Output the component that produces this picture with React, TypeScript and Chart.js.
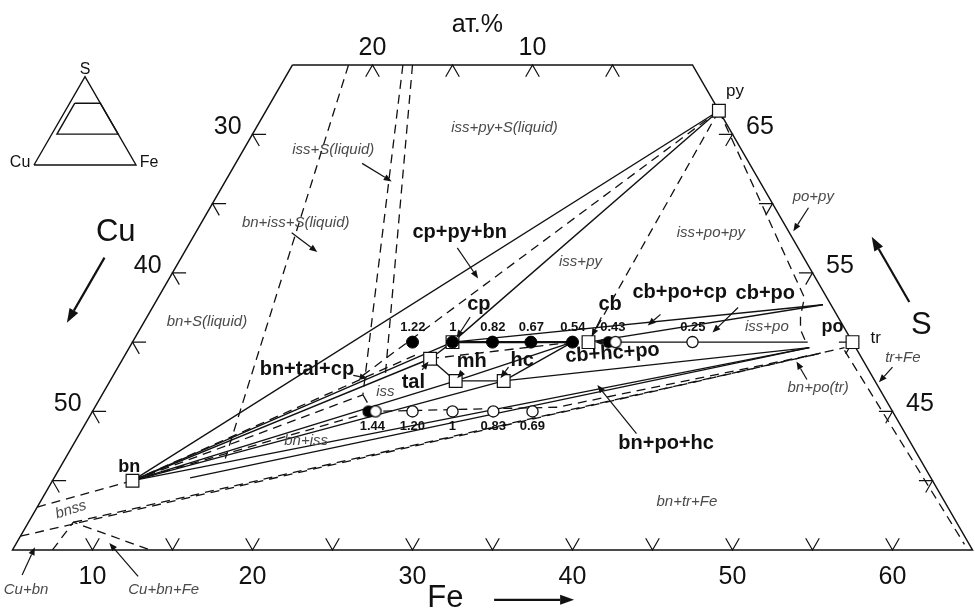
import React, { useEffect, useRef } from "react";
import { Chart, registerables } from "chart.js";

Chart.register(...registerables);

// Every composition is [Fe at.%, S at.%]; Cu = 100 - Fe - S.
type Comp = [number, number];

// ---- phases ----
const PY: Comp = [33.3, 66.7];
const BN: Comp = [10, 40];
const CP: Comp = [25, 50];
const TAL: Comp = [24.2, 48.8];
const MH: Comp = [26.6, 47.2];
const HC: Comp = [29.6, 47.2];
const CB: Comp = [33.5, 50];
const TR: Comp = [50, 50];
const PO_UPPER: Comp = [46.8, 52.7];
const PO_MID: Comp = [47.2, 50];
const PO_LOWER: Comp = [47.5, 49.6];
const BNSS: Comp = [7.8, 37];
const P054: Comp = [32.5, 50];
const P043: Comp = [35, 50];
const Q144: Comp = [22.5, 45];
const ISS_CORNER: Comp = [21.3, 46.2];

const PHASE_SQUARES: Comp[] = [PY, BN, CP, TAL, MH, HC, CB, TR];

// ---- experimental compositions (Cu/Fe ratios) ----
const UPPER_RATIOS = ["1.22", "1", "0.82", "0.67", "0.54", "0.43", "0.25"];
const UPPER_FE = [22.5, 25, 27.5, 29.9, 32.5, 35, 40];
const UPPER_S = 50;
const UPPER_KIND = ["filled", "filled", "filled", "filled", "filled", "half", "open"];
const LOWER_RATIOS = ["1.44", "1.20", "1", "0.83", "0.69"];
const LOWER_FE = [22.5, 25, 27.5, 30.05, 32.5];
const LOWER_S = 45;
const LOWER_KIND = ["half", "open", "open", "open", "open"];

// ---- frame and axes ----
const FRAME: Comp[] = [[5, 70], [30, 70], [65, 35], [5, 35], [5, 70]];
const TOP_TICKS_FE = [10, 15, 20, 25];
const BOTTOM_TICKS_FE = [10, 15, 20, 25, 30, 35, 40, 45, 50, 55, 60];
const LEFT_TICKS_S = [65, 60, 55, 50, 45, 40];
const RIGHT_TICKS_S = [65, 60, 55, 50, 45, 40];
const TOP_LABELS_CU = [20, 10];
const BOTTOM_LABELS_FE = [10, 20, 30, 40, 50, 60];
const LEFT_LABELS_CU = [30, 40, 50];
const RIGHT_LABELS_S = [65, 55, 45];

// ---- tie lines / boundaries ----
const SOLID_LINES: Comp[][] = [
  [PY, BN], [PY, CP], [BN, CP], [BN, TAL], [BN, MH], [BN, HC], [BN, PO_LOWER],
  [[13.5, 40.2], PO_LOWER],
  [CP, TAL], [TAL, MH], [MH, HC], [MH, P054], [HC, P054], [HC, PO_LOWER],
  [CP, PO_UPPER], [CB, PO_UPPER], [P043, PO_MID],
];
const BOLD_LINES: Comp[][] = [[CP, P054]];
const DASHED_LINES: Comp[][] = [
  [PY, CB],
  [PY, [20.6, 47.6]],
  [PY, [45.4, 53.2], [45.8, 51.9], [46.3, 50.9], [47.0, 50.1]],
  [[49.8, 49.4], [64.3, 35.4]],
  [[8.5, 70], [15.0, 41.6]],
  [[11.9, 70], ISS_CORNER],
  [[12.5, 70], [22.0, 47.6]],
  [ISS_CORNER, Q144, [33.9, 45.3], [48.4, 49.2]],
  [[5, 36], [49.7, 49.6]],
  [BNSS, [48.4, 49.2]],
  [BN, [5, 38.1]],
  [[7.5, 35], BNSS, [13.6, 35]],
  [BN, ISS_CORNER],
  [BN, [23.2, 49.1]],
  [BN, Q144],
  [TAL, P054],
];

// ---- inset (whole Cu-Fe-S triangle) ----
const INSET_TRIANGLE: Comp[] = [[0, 0], [100, 0], [0, 100], [0, 0]];

type Label = { text: string; at: Comp; kind: string; rot?: number };
const LABELS: Label[] = [
  { text: "ат.%", at: [15.1, 72.9], kind: "axis" },
  { text: "Fe", at: [33.8, 31.5], kind: "title" },
  { text: "Cu", at: [0, 57.9], kind: "title" },
  { text: "S", at: [53.7, 51.2], kind: "title" },
  { text: "py", at: [33.6, 68.1], kind: "plain" },
  { text: "tr", at: [51.3, 50.3], kind: "plain" },
  { text: "po", at: [48.2, 51.1], kind: "boldS" },
  { text: "bn", at: [9.3, 41.0], kind: "boldS" },
  { text: "iss+py+S(liquid)", at: [20.5, 65.5], kind: "field" },
  { text: "iss+S(liquid)", at: [10.6, 63.9], kind: "field" },
  { text: "bn+iss+S(liquid)", at: [10.9, 58.6], kind: "field" },
  { text: "iss+py", at: [30.1, 55.8], kind: "field" },
  { text: "iss+po+py", at: [37.2, 57.9], kind: "field" },
  { text: "po+py", at: [42.3, 60.5], kind: "field" },
  { text: "bn+S(liquid)", at: [8.9, 51.5], kind: "field" },
  { text: "iss+po", at: [44.1, 51.1], kind: "field" },
  { text: "iss", at: [22.6, 46.4], kind: "field" },
  { text: "bn+iss", at: [19.4, 42.9], kind: "field" },
  { text: "bn+po(tr)", at: [49.5, 46.7], kind: "field" },
  { text: "tr+Fe", at: [53.7, 48.9], kind: "field" },
  { text: "bn+tr+Fe", at: [45.4, 38.5], kind: "field" },
  { text: "bnss", at: [7.2, 37.9], kind: "field", rot: -17 },
  { text: "Cu+bn", at: [7.3, 32.1], kind: "field" },
  { text: "Cu+bn+Fe", at: [15.9, 32.1], kind: "field" },
  { text: "cp+py+bn", at: [21.5, 57.9], kind: "bold" },
  { text: "cp", at: [25.3, 52.7], kind: "bold" },
  { text: "cb", at: [33.5, 52.7], kind: "bold" },
  { text: "cb+po+cp", at: [37.4, 53.6], kind: "bold" },
  { text: "cb+po", at: [42.8, 53.5], kind: "bold" },
  { text: "tal", at: [24.0, 47.1], kind: "bold" },
  { text: "mh", at: [26.9, 48.6], kind: "bold" },
  { text: "hc", at: [30.0, 48.7], kind: "bold" },
  { text: "cb+hc+po", at: [35.4, 49.2], kind: "bold", rot: -4 },
  { text: "bn+tal+cp", at: [16.9, 48.0], kind: "bold" },
  { text: "bn+po+hc", at: [42.0, 42.7], kind: "bold" },
];

const ARROWS: Comp[][] = [
  [[36.9, 31.4], [41.9, 31.4]],
  [[0.2, 56.1], [0.2, 51.4]],
  [[52.1, 52.9], [47.4, 57.6]],
  [[12.9, 62.9], [15.4, 61.6]],
  [[11.0, 57.9], [13.3, 56.5]],
  [[21.9, 56.8], [24.3, 54.6]],
  [[42.4, 59.7], [42.3, 58.0]],
  [[25.2, 51.8], [25.1, 50.3]],
  [[33.4, 51.8], [33.5, 50.4]],
  [[37.0, 52.0], [36.6, 51.2]],
  [[41.6, 52.5], [40.9, 50.7]],
  [[24.1, 48.0], [24.2, 48.6]],
  [[26.7, 47.8], [26.6, 47.4]],
  [[29.4, 48.2], [29.3, 47.4]],
  [[20.0, 47.6], [21.0, 47.4]],
  [[39.8, 43.4], [35.6, 46.9]],
  [[48.5, 47.3], [47.2, 48.6]],
  [[53.4, 48.2], [53.1, 47.1]],
  [[6.5, 33.2], [6.3, 35.2]],
  [[13.8, 33.1], [10.8, 35.5]],
  [[34.5, 50.0], [33.9, 50.0]],
];

const INSET_LABELS: Label[] = [
  { text: "S", at: [-3.8, 107.6], kind: "inset" },
  { text: "Cu", at: [-14.8, 2.3], kind: "inset" },
  { text: "Fe", at: [111.6, 2.3], kind: "inset" },
];

const FONT = '"Liberation Sans", Arial, sans-serif';
const FONTS: Record<string, string> = {
  axis: `25px ${FONT}`,
  title: `31px ${FONT}`,
  plain: `17px ${FONT}`,
  boldS: `bold 18px ${FONT}`,
  field: `italic 15px ${FONT}`,
  bold: `bold 20px ${FONT}`,
  ratio: `bold 13px ${FONT}`,
  inset: `16px ${FONT}`,
};
const COLORS: Record<string, string> = { field: "#4a4a4a" };

const toXY = (c: Comp) => ({ x: c[0] + c[1] / 2, y: c[1] });

function halfMarker() {
  const c = document.createElement("canvas");
  c.width = 22;
  c.height = 14;
  const g = c.getContext("2d")!;
  g.fillStyle = "#000";
  g.beginPath();
  g.arc(7, 7, 6, 0, Math.PI * 2);
  g.fill();
  g.fillStyle = "#fff";
  g.strokeStyle = "#000";
  g.lineWidth = 1.3;
  g.beginPath();
  g.arc(14, 7, 5.6, 0, Math.PI * 2);
  g.fill();
  g.stroke();
  return c;
}

export default function App() {
  const ref = useRef<HTMLCanvasElement | null>(null);

  useEffect(() => {
    if (!ref.current) return;
    const D = 0.85;
    const lineDs = (pts: Comp[], width: number, dash: number[] = [], x = "x", y = "y") => ({
      data: pts.map(toXY),
      showLine: true,
      borderColor: "#111",
      borderWidth: width,
      borderDash: dash,
      pointRadius: 0,
      fill: false,
      tension: 0,
      order: 5,
      xAxisID: x,
      yAxisID: y,
    });

    const ticks: Comp[][] = [
      ...TOP_TICKS_FE.map((fe) => [[fe, 70 - D], [fe, 70], [fe + D, 70 - D]] as Comp[]),
      ...BOTTOM_TICKS_FE.map((fe) => [[fe - D, 35 + D], [fe, 35], [fe, 35 + D]] as Comp[]),
      ...LEFT_TICKS_S.map((s) => [[5 + D, s], [5, s], [5 + D, s - D]] as Comp[]),
      ...RIGHT_TICKS_S.map((s) => [[100 - s - D, s], [100 - s, s], [100 - s, s - D]] as Comp[]),
    ];

    const upper = UPPER_FE.map((fe) => [fe, UPPER_S] as Comp);
    const lower = LOWER_FE.map((fe) => [fe, LOWER_S] as Comp);
    const pick = (pts: Comp[], kinds: string[], k: string) => pts.filter((_, i) => kinds[i] === k);
    const half = halfMarker();

    const datasets: any[] = [
      lineDs(FRAME, 1.5),
      ...ticks.map((t) => lineDs(t, 1.2)),
      ...SOLID_LINES.map((l) => lineDs(l, 1.4)),
      ...BOLD_LINES.map((l) => lineDs(l, 2.4)),
      ...DASHED_LINES.map((l) => lineDs(l, 1.3, [9, 6])),
      lineDs(INSET_TRIANGLE, 1.4, [], "xi", "yi"),
      lineDs(FRAME, 1.4, [], "xi", "yi"),
      {
        data: PHASE_SQUARES.map(toXY),
        pointStyle: "rect",
        pointRadius: 9,
        backgroundColor: "#fff",
        pointBackgroundColor: "#fff",
        borderColor: "#111",
        pointBorderColor: "#111",
        pointBorderWidth: 1.2,
        order: 2,
      },
      {
        data: [...pick(upper, UPPER_KIND, "filled"), ...pick(lower, LOWER_KIND, "filled")].map(toXY),
        pointStyle: "circle",
        pointRadius: 6,
        backgroundColor: "#000",
        pointBackgroundColor: "#000",
        pointBorderColor: "#000",
        order: 1,
      },
      {
        data: [...pick(upper, UPPER_KIND, "open"), ...pick(lower, LOWER_KIND, "open")].map(toXY),
        pointStyle: "circle",
        pointRadius: 5.6,
        backgroundColor: "#fff",
        pointBackgroundColor: "#fff",
        pointBorderColor: "#111",
        pointBorderWidth: 1.3,
        order: 1,
      },
      {
        data: [...pick(upper, UPPER_KIND, "half"), ...pick(lower, LOWER_KIND, "half")].map(toXY),
        pointStyle: half,
        pointRadius: 6,
        order: 1,
      },
    ];

    const annotate = {
      id: "annotate",
      afterDatasetsDraw(chart: any) {
        const ctx = chart.ctx as CanvasRenderingContext2D;
        const sx = chart.scales.x;
        const sy = chart.scales.y;
        const six = chart.scales.xi;
        const siy = chart.scales.yi;
        const P = (c: Comp) => [sx.getPixelForValue(c[0] + c[1] / 2), sy.getPixelForValue(c[1])];
        const PI = (c: Comp) => [six.getPixelForValue(c[0] + c[1] / 2), siy.getPixelForValue(c[1])];
        const text = (t: string, p: number[], kind: string, rot = 0) => {
          ctx.save();
          ctx.font = FONTS[kind];
          ctx.fillStyle = COLORS[kind] || "#111";
          ctx.textAlign = "center";
          ctx.textBaseline = "middle";
          ctx.translate(p[0], p[1]);
          ctx.rotate((rot * Math.PI) / 180);
          ctx.fillText(t, 0, 0);
          ctx.restore();
        };
        LABELS.forEach((l) => text(l.text, P(l.at), l.kind, l.rot || 0));
        INSET_LABELS.forEach((l) => text(l.text, PI(l.at), l.kind));
        TOP_LABELS_CU.forEach((cu) => text(String(cu), P([30 - cu - 0.615, 71.23]), "axis"));
        BOTTOM_LABELS_FE.forEach((fe) => text(String(fe), P([fe + 0.975, 33.05]), "axis"));
        LEFT_LABELS_CU.forEach((cu) => {
          const s = 95 - cu;
          text(String(cu), P([5 - 1.55 - 0.25, s + 0.5]), "axis");
        });
        RIGHT_LABELS_S.forEach((s) => text(String(s), P([100 - s + 1.72 - 0.25, s + 0.5]), "axis"));
        UPPER_RATIOS.forEach((r, i) => text(r, P([UPPER_FE[i] - 0.5, UPPER_S + 1.05]), "ratio"));
        LOWER_RATIOS.forEach((r, i) => text(r, P([LOWER_FE[i] + 0.52, LOWER_S - 1.05]), "ratio"));
        ctx.save();
        ctx.strokeStyle = "#111";
        ctx.fillStyle = "#111";
        ARROWS.forEach(([a, b], i) => {
          const [x1, y1] = P(a);
          const [x2, y2] = P(b);
          const big = i < 3;
          ctx.lineWidth = big ? 2.2 : 1.2;
          const ang = Math.atan2(y2 - y1, x2 - x1);
          const hl = big ? 14 : 8;
          const hw = big ? 5 : 3.2;
          const bx = x2 - hl * Math.cos(ang);
          const by = y2 - hl * Math.sin(ang);
          ctx.beginPath();
          ctx.moveTo(x1, y1);
          ctx.lineTo(bx, by);
          ctx.stroke();
          ctx.beginPath();
          ctx.moveTo(x2, y2);
          ctx.lineTo(bx + hw * Math.sin(ang), by - hw * Math.cos(ang));
          ctx.lineTo(bx - hw * Math.sin(ang), by + hw * Math.cos(ang));
          ctx.closePath();
          ctx.fill();
        });
        ctx.restore();
      },
    };

    const chart = new Chart(ref.current, {
      type: "scatter",
      data: { datasets },
      options: {
        animation: false,
        responsive: false,
        devicePixelRatio: 1,
        events: [],
        layout: { padding: 0, autoPadding: false },
        plugins: { legend: { display: false }, tooltip: { enabled: false } },
        scales: {
          x: { type: "linear", display: false, min: 21.71875, max: 82.65625 },
          y: { type: "linear", display: false, min: 30.595, max: 74.691 },
          xi: { type: "linear", axis: "x", display: false, min: -33.33, max: 922.5 },
          yi: { type: "linear", axis: "y", display: false, min: -505.1, max: 186.9 },
        },
      } as any,
      plugins: [annotate],
    });
    return () => chart.destroy();
  }, []);

  return (
    <div style={{ position: "absolute", left: 0, top: 0, width: 975, height: 611, background: "#fff" }}>
      <canvas ref={ref} width={975} height={611} style={{ display: "block" }} />
    </div>
  );
}
